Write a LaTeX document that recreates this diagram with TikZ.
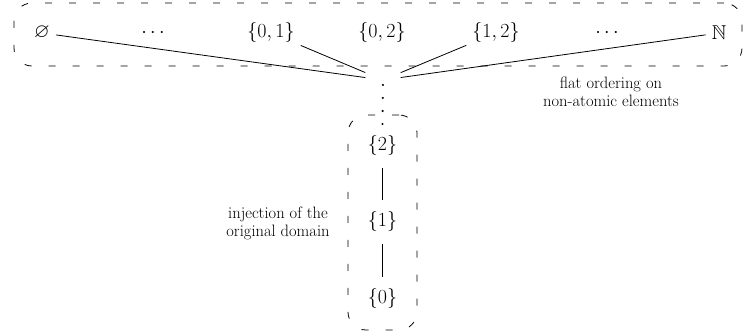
\RequirePackage{fix-cm}
\documentclass[tikz,border=0pt]{standalone}
\usepackage{amssymb}
\begin{document}
\begin{tikzpicture}[x=1pt,y=-1pt,
  elem/.style={font=\fontsize{20}{24}\selectfont, inner sep=6pt},
  colelem/.style={elem, minimum height=44pt},
  lbl/.style={font=\fontsize{16.5}{18}\selectfont, align=center, inner sep=0pt},
  grp/.style={draw, line width=0.8pt, dash pattern=on 7pt off 17pt, rounded corners=18pt, inner sep=0pt},
  edge/.style={draw, line width=0.8pt},
  dotline/.style={draw, line width=2.4pt, line cap=round, dash pattern=on 0pt off 13pt}]
\useasboundingbox (0,0) rectangle (744,336);

% group boxes
\node[grp, minimum width=728pt, minimum height=63pt] (topbox) at (378,34.5) {};
\node[grp, minimum width=69pt, minimum height=215pt] (botbox) at (382.5,222.5) {};

% top row
\node[elem] (empty) at (42,33) {$\varnothing$};
\node[elem] (ldots) at (153,33) {$\cdots$};
\node[elem] (s01) at (271,33) {$\{0,1\}$};
\node[elem] (s02) at (382,33) {$\{0,2\}$};
\node[elem] (s12) at (496,33) {$\{1,2\}$};
\node[elem] (rdots) at (607,33) {$\cdots$};
\node[elem] (nat) at (719,33) {$\mathbb{N}$};

% junction
\node[minimum width=35pt, minimum height=20pt, inner sep=0pt] (junc) at (383,80) {};

% column
\node[colelem] (n2) at (382.5,146) {$\{2\}$};
\node[colelem] (n1) at (382.5,222) {$\{1\}$};
\node[colelem] (n0) at (382.5,299) {$\{0\}$};

% connectors
\draw[edge] (empty) -- (junc);
\draw[edge] (s01) -- (junc);
\draw[edge] (s12) -- (junc);
\draw[edge] (nat) -- (junc);
\draw[dotline, shorten <=5pt, shorten >=-1pt] (junc.center) -- (n2.north);
\draw[edge] (n2) -- (n1);
\draw[edge] (n1) -- (n0);

% labels
\node[lbl] (flatlbl) at (611,92) {flat ordering on\\non-atomic elements};
\node[lbl] (injlbl) at (278,223) {injection of the\\original domain};
\end{tikzpicture}
\end{document}
